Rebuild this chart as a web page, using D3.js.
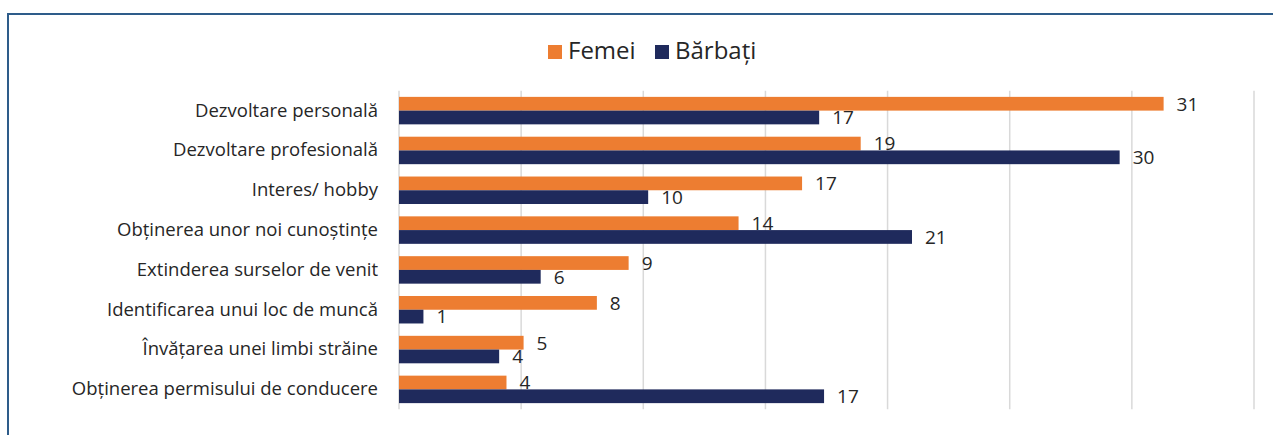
<!DOCTYPE html>
<html>
<head>
<meta charset="utf-8">
<script src="https://cdn.jsdelivr.net/npm/d3@7"></script>
<style>
  body { margin: 0; background: #fff; }
  text { font-family: "Open Sans", "Noto Sans", sans-serif; fill: #262626; }
</style>
</head>
<body>
<svg id="canvas" width="1273" height="435"></svg>
<script>
let categories = [
  'Dezvoltare personală',
  'Dezvoltare profesională',
  'Interes/ hobby',
  'Obținerea unor noi cunoștințe',
  'Extinderea surselor de venit',
  'Identificarea unui loc de muncă',
  'Învățarea unei limbi străine',
  'Obținerea permisului de conducere'
]
let femei =   [31.3, 18.9, 16.5, 13.9, 9.4, 8.1, 5.1, 4.4]
let barbati = [17.2, 29.5, 10.2, 21.0, 5.8, 1.0, 4.1, 17.4]
let seriesNames = ['Femei', 'Bărbați']
let seriesColors = ['#ED7D31', '#1F2A5C']
let xTicks = [0, 5, 10, 15, 20, 25, 30, 35]

let canvas = d3.select('#canvas')

// chart frame
canvas.append('rect')
  .attr('x', 8).attr('y', 14)
  .attr('width', 1300).attr('height', 460)
  .attr('fill', 'none')
  .attr('stroke', '#2E5C8A')
  .attr('stroke-width', 2)

let xScale = d3.scaleLinear().domain([0, 35]).range([399, 1254])
let yScale = d3.scaleBand().domain(categories).range([90.7, 409.3])
  .paddingInner(0.31).paddingOuter(0.155)
let subScale = d3.scaleBand().domain(seriesNames).range([0, yScale.bandwidth()])

// gridlines
canvas.append('g').selectAll('line')
  .data(xTicks)
  .enter()
  .append('line')
  .attr('x1', (t) => xScale(t)).attr('x2', (t) => xScale(t))
  .attr('y1', 90.7).attr('y2', 409.3)
  .attr('stroke', '#D9D9D9')
  .attr('stroke-width', 1.5)

// category labels
let yAxis = canvas.append('g')
  .attr('transform', 'translate(399,0)')
  .call(d3.axisLeft(yScale).tickSize(0).tickPadding(21))
yAxis.select('.domain').remove()
yAxis.selectAll('text')
  .style('font-family', '"Open Sans", "Noto Sans", sans-serif')
  .style('font-size', '18.5px')
  .attr('fill', '#262626')

let rows = categories.map((c, i) => ({ cat: c, values: [femei[i], barbati[i]] }))

let group = canvas.append('g').selectAll('g')
  .data(rows)
  .enter()
  .append('g')
  .attr('transform', (d) => 'translate(0,' + yScale(d.cat) + ')')

seriesNames.forEach((name, s) => {
  group.append('rect')
    .attr('x', xScale(0))
    .attr('y', subScale(name))
    .attr('width', (d) => xScale(d.values[s]) - xScale(0))
    .attr('height', subScale.bandwidth())
    .attr('fill', seriesColors[s])

  group.append('text')
    .text((d) => Math.round(d.values[s]))
    .attr('x', (d) => xScale(d.values[s]) + 13)
    .attr('y', subScale(name) + subScale.bandwidth() / 2)
    .attr('dy', '0.36em')
    .style('font-size', '19px')
})

// legend
let legend = canvas.append('g').attr('transform', 'translate(548,45)')
let legendX = [0, 107]
seriesNames.forEach((name, s) => {
  legend.append('rect')
    .attr('x', legendX[s]).attr('y', 0)
    .attr('width', 14).attr('height', 14)
    .attr('fill', seriesColors[s])
  legend.append('text')
    .attr('x', legendX[s] + 20).attr('y', 14)
    .style('font-size', '24px')
    .text(name)
})
</script>
</body>
</html>
